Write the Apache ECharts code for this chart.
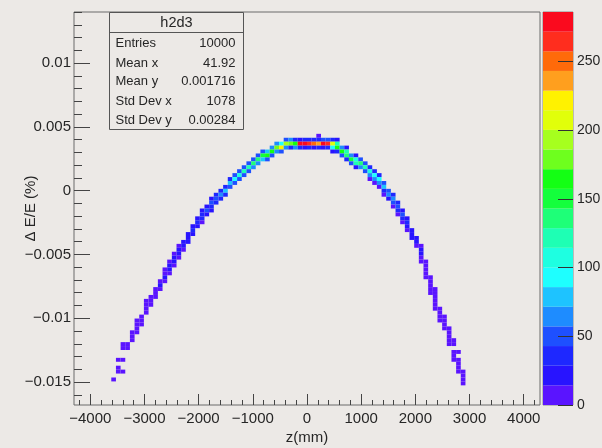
<!DOCTYPE html>
<html><head><meta charset="utf-8">
<script src="https://cdn.jsdelivr.net/npm/echarts@6/dist/echarts.min.js"></script>
<style>html,body{margin:0;padding:0;background:#ece9e6}#c{width:602px;height:448px}</style>
</head><body><div id="c"></div>
<script>
// ---- histogram binning (h2d3) ----
const zRange = [-4300, 4300];
const nBinsZ = 100;
const dERange = [-0.0168, 0.014];
const nBinsDE = 100;
const zContentMax = 286;

// ---- tick labels ----
const zMajorTicks = [-4000, -3000, -2000, -1000, 0, 1000, 2000, 3000, 4000];
const dEMajorTicks = [-0.015, -0.01, -0.005, 0, 0.005, 0.01];
const paletteTicks = [0, 50, 100, 150, 200, 250];

// ---- stats box ----
const statsTitle = 'h2d3';
const statsLabels = ['Entries', 'Mean x', 'Mean y', 'Std Dev x', 'Std Dev y'];
const statsValues = ['10000', '41.92', '0.001716', '1078', '0.00284'];

// ---- palette (20 contour levels, bottom -> top) ----
const palette = ['#5a14ff', '#2814ff', '#1e28ff', '#1e50ff', '#1e8cff', '#1ec3ff', '#1effff',
  '#1effe1', '#1effb4', '#1eff78', '#14ff3c', '#14ff14', '#6eff1e', '#a6ff1e', '#e1ff0a',
  '#fff200', '#ff9f1e', '#ff6a0a', '#ff2d1e', '#fa0a1e'];

// ---- bin contents: [z bin index, top dE bin index, counts going downwards] ----
const columns = [
  [8, 6, [2]],
  [9, 11, [2, 0, 2, 3]],
  [10, 15, [3, 4, 0, 0, 3, 0, 0, 2]],
  [11, 15, [5, 6]],
  [12, 18, [4, 6, 5]],
  [13, 21, [5, 8, 7, 3]],
  [14, 22, [6, 9, 7]],
  [15, 26, [5, 10, 11, 6]],
  [16, 27, [9, 13, 8]],
  [17, 29, [10, 14, 9]],
  [18, 31, [11, 16, 10]],
  [19, 34, [8, 14, 16, 9]],
  [20, 36, [10, 18, 15, 8]],
  [21, 38, [12, 20, 17, 9]],
  [22, 40, [10, 22, 20, 11]],
  [23, 41, [16, 26, 14]],
  [24, 43, [18, 28, 17]],
  [25, 45, [20, 30, 19]],
  [26, 47, [22, 33, 21]],
  [27, 49, [16, 34, 30, 14]],
  [28, 50, [28, 44, 25]],
  [29, 52, [20, 45, 40, 18]],
  [30, 53, [32, 55, 30]],
  [31, 54, [36, 62, 34]],
  [32, 55, [40, 72, 38]],
  [33, 57, [30, 85, 55]],
  [34, 58, [45, 100, 50]],
  [35, 59, [48, 105, 52]],
  [36, 60, [50, 115, 55]],
  [37, 61, [55, 120, 50]],
  [38, 62, [50, 130, 60]],
  [39, 63, [55, 140, 60]],
  [40, 64, [50, 150, 75]],
  [41, 64, [80, 165, 50]],
  [42, 65, [70, 170, 55]],
  [43, 66, [60, 185, 70]],
  [44, 66, [90, 220, 45]],
  [45, 67, [45, 200, 70]],
  [46, 67, [60, 180, 40]],
  [47, 67, [35, 165, 60]],
  [48, 67, [25, 275, 30]],
  [49, 67, [30, 285, 25]],
  [50, 67, [35, 270, 30]],
  [51, 67, [30, 250, 25]],
  [52, 68, [8, 40, 240, 30]],
  [53, 67, [45, 278, 20]],
  [54, 67, [50, 262, 40]],
  [55, 67, [30, 210, 90, 20]],
  [56, 67, [15, 120, 165, 40]],
  [57, 65, [60, 165, 50]],
  [58, 65, [20, 120, 130, 30]],
  [59, 63, [60, 150, 50]],
  [60, 63, [20, 110, 120, 20]],
  [61, 62, [50, 130, 60]],
  [62, 61, [45, 125, 50]],
  [63, 60, [30, 110, 70, 10]],
  [64, 59, [40, 100, 60, 10]],
  [65, 58, [30, 90, 60, 10]],
  [66, 56, [45, 80, 35, 8]],
  [67, 54, [55, 70, 25]],
  [68, 53, [30, 60, 45, 8]],
  [69, 51, [30, 50, 35, 8]],
  [70, 49, [25, 45, 30, 8]],
  [71, 47, [20, 32, 24, 6]],
  [72, 44, [20, 28, 16]],
  [73, 42, [18, 24, 13]],
  [74, 40, [10, 20, 18, 10, 4]],
  [75, 36, [8, 14, 12, 8, 3]],
  [76, 32, [6, 10, 9, 6, 3]],
  [77, 29, [5, 8, 7, 6, 4, 2]],
  [78, 24, [5, 6, 5, 3]],
  [79, 22, [3, 5, 4, 3]],
  [80, 19, [3, 4, 4, 3, 2]],
  [81, 16, [3, 2, 0, 3, 2, 2]],
  [82, 13, [2, 0, 3, 2, 2, 2]],
  [83, 8, [2, 2, 1, 2]]
];

// ---- build cells [zCenter, dECenter, count] ----
const dz = (zRange[1] - zRange[0]) / nBinsZ;
const dy = (dERange[1] - dERange[0]) / nBinsDE;
const cells = [];
columns.forEach(([ix, jTop, counts]) => {
  counts.forEach((c, k) => {
    if (c > 0) {
      const j = jTop - k;
      cells.push([zRange[0] + (ix + 0.5) * dz, dERange[0] + (j + 0.5) * dy, c]);
    }
  });
});
const bandW = zContentMax / palette.length;
const bands = palette.map((col, k) => [k * bandW, (k + 1) * bandW, (k + 0.5) * bandW]);
const pieces = palette.map((col, k) => k === palette.length - 1
  ? { gte: k * bandW, color: col }
  : { gte: k * bandW, lt: (k + 1) * bandW, color: col });

const zMinor = []; for (let v = -4200; v <= 4200; v += 200) if (v % 1000 !== 0) zMinor.push(v);
const dEMinor = []; for (let k = -16; k <= 14; k++) if (k % 5 !== 0) dEMinor.push(k / 1000);

const FONT = 'Liberation Sans, Arial, sans-serif';
const TXT = '#262626';
const fmtNum = v => (v < 0 ? '\u2212' : '') + String(Math.abs(+v.toFixed(4)));
const noLine = { show: false, onZero: false };

const chart = echarts.init(document.getElementById('c'), null, { renderer: 'canvas' });
chart.setOption({
  backgroundColor: '#ece9e6',
  animation: false,
  textStyle: { fontFamily: FONT },
  grid: [
    { left: 74, right: 62, top: 12, bottom: 43, show: true, borderColor: '#6a6a6a', borderWidth: 1,
      backgroundColor: 'transparent', containLabel: false, outerBoundsMode: 'none' },
    { left: 543, width: 30, top: 12, bottom: 43, show: true, borderColor: '#8a8a8a', borderWidth: 1,
      containLabel: false, outerBoundsMode: 'none' }
  ],
  xAxis: [
    { gridIndex: 0, type: 'value', min: zRange[0], max: zRange[1], position: 'bottom', z: 5,
      name: 'z(mm)', nameLocation: 'middle', nameGap: 25, nameMoveOverlap: false,
      nameTextStyle: { fontSize: 15, color: TXT, fontFamily: FONT },
      axisLine: noLine, splitLine: { show: false },
      axisTick: { inside: true, length: 11, customValues: zMajorTicks, lineStyle: { color: '#444' } },
      axisLabel: { customValues: zMajorTicks, fontSize: 15, color: TXT, margin: 6, formatter: fmtNum } },
    { gridIndex: 0, type: 'value', min: zRange[0], max: zRange[1], position: 'bottom', z: 5,
      axisLine: noLine, splitLine: { show: false }, axisLabel: { show: false },
      axisTick: { inside: true, length: 5, customValues: zMinor, lineStyle: { color: '#444' } } },
    { gridIndex: 1, type: 'value', min: 0, max: 1, show: false }
  ],
  yAxis: [
    { gridIndex: 0, type: 'value', min: dERange[0], max: dERange[1], position: 'left', z: 5,
      name: '\u0394 E/E (%)', nameLocation: 'middle', nameGap: 36, nameRotate: 90, nameMoveOverlap: false,
      nameTextStyle: { fontSize: 15, color: TXT, fontFamily: FONT },
      axisLine: noLine, splitLine: { show: false },
      axisTick: { inside: true, length: 16, customValues: dEMajorTicks, lineStyle: { color: '#444' } },
      axisLabel: { customValues: dEMajorTicks, fontSize: 15, color: TXT, margin: 3, formatter: fmtNum } },
    { gridIndex: 0, type: 'value', min: dERange[0], max: dERange[1], position: 'left', z: 5,
      axisLine: noLine, splitLine: { show: false }, axisLabel: { show: false },
      axisTick: { inside: true, length: 8, customValues: dEMinor, lineStyle: { color: '#444' } } },
    { gridIndex: 1, type: 'value', min: 0, max: zContentMax, position: 'right', z: 5,
      axisLine: noLine, splitLine: { show: false },
      axisTick: { inside: true, length: 15, customValues: paletteTicks, lineStyle: { color: '#333' } },
      axisLabel: { customValues: paletteTicks, fontSize: 14, color: TXT, margin: 4 } }
  ],
  visualMap: {
    type: 'piecewise', show: false, dimension: 2, seriesIndex: [0, 1], pieces: pieces
  },
  series: [
    { type: 'custom', xAxisIndex: 0, yAxisIndex: 0, data: cells, z: 2,
      renderItem: (params, api) => {
        const z = api.value(0), e = api.value(1);
        const p0 = api.coord([z - dz / 2, e + dy / 2]);
        const p1 = api.coord([z + dz / 2, e - dy / 2]);
        return { type: 'rect', shape: { x: p0[0], y: p0[1], width: p1[0] - p0[0], height: p1[1] - p0[1] },
          style: { fill: api.visual('color') } };
      } },
    { type: 'custom', xAxisIndex: 2, yAxisIndex: 2, data: bands, z: 1,
      renderItem: (params, api) => {
        const p0 = api.coord([0, api.value(1)]);
        const p1 = api.coord([1, api.value(0)]);
        return { type: 'rect', shape: { x: p0[0], y: p0[1], width: p1[0] - p0[0], height: p1[1] - p0[1] },
          style: { fill: api.visual('color') } };
      } }
  ],
  graphic: [
    { type: 'group', left: 107, top: 12, z: 100, children: [
      { type: 'rect', shape: { x: 0, y: 0, width: 134, height: 117 }, style: { fill: '#ece9e6', stroke: '#555', lineWidth: 1 } },
      { type: 'line', shape: { x1: 0, y1: 20, x2: 134, y2: 20 }, style: { stroke: '#555', lineWidth: 1 } },
      { type: 'text', x: 67, y: 10, style: { text: statsTitle, fontSize: 14.5, fontFamily: FONT, fill: TXT, align: 'center', verticalAlign: 'middle' } },
      ...statsLabels.map((s, k) => ({ type: 'text', x: 6, y: [31, 51, 69, 89, 108][k],
        style: { text: s, fontSize: 13, fontFamily: FONT, fill: TXT, align: 'left', verticalAlign: 'middle' } })),
      ...statsValues.map((s, k) => ({ type: 'text', x: 126, y: [31, 51, 69, 89, 108][k],
        style: { text: s, fontSize: 13, fontFamily: FONT, fill: TXT, align: 'right', verticalAlign: 'middle' } }))
    ] }
  ]
});
</script></body></html>
